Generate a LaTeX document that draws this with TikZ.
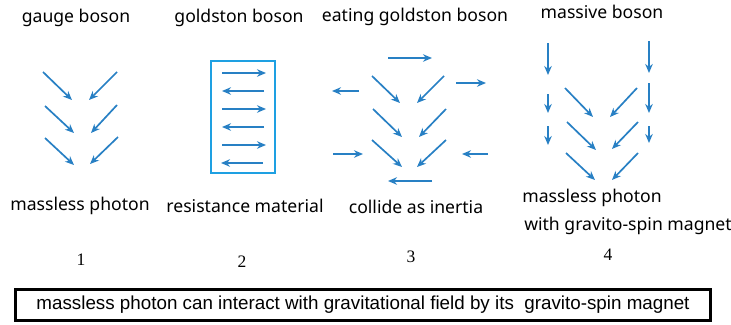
\documentclass[tikz,border=0pt]{standalone}
\usepackage{fontspec}
\setmainfont{Noto Sans}
\newfontfamily\boxfont{Liberation Sans}
\newfontfamily\numfont{Liberation Serif}
\usetikzlibrary{arrows.meta}

\definecolor{arrowblue}{RGB}{40,128,196}
\definecolor{framecyan}{RGB}{30,160,226}

\tikzset{
  photonarrow/.style={-{Stealth[length=9pt,width=7.5pt]}, line width=1.7pt, arrowblue},
  caption/.style={anchor=base, inner sep=0pt, font=\fontsize{17.6}{20}\selectfont},
  stepnum/.style={anchor=base, inner sep=0pt, font=\numfont\fontsize{17.5}{20}\selectfont}
}

\begin{document}
\begin{tikzpicture}[x=1pt, y=-1pt]
    \useasboundingbox (0,0) rectangle (731,324);

    % 1: gauge boson
    \node[caption] (gauge) at (76,22) {gauge boson};
    \draw[photonarrow] (43,72) -- (72,100);
    \draw[photonarrow] (117,72) -- (89,100);
    \draw[photonarrow] (45,106) -- (74,133);
    \draw[photonarrow] (117,105) -- (91,133);
    \draw[photonarrow] (45,138) -- (74,165);
    \draw[photonarrow] (118,137) -- (90,164);
    \node[caption] (photon1) at (80,210) {massless photon};

    % 2: goldston boson in its box
    \node[caption] (goldston) at (239,22) {goldston boson};
    \draw[framecyan, line width=2.4pt] (211,61) rectangle (275,173);
    \draw[photonarrow] (222,73) -- (266,73);
    \draw[photonarrow] (264,91) -- (222,91);
    \draw[photonarrow] (222,109) -- (266,109);
    \draw[photonarrow] (264,127) -- (222,127);
    \draw[photonarrow] (222,145) -- (266,145);
    \draw[photonarrow] (263,163) -- (221,163);
    \node[caption] (resist) at (245,212) {resistance material};

    % 3: eating goldston boson
    \node[caption] (eating) at (415,21) {eating goldston boson};
    \draw[photonarrow] (388,58) -- (432,58);
    \draw[photonarrow] (372,76) -- (400,103);
    \draw[photonarrow] (444,76) -- (417,103);
    \draw[photonarrow] (373,109) -- (402,137);
    \draw[photonarrow] (446,109) -- (419,137);
    \draw[photonarrow] (372,140) -- (402,167);
    \draw[photonarrow] (446,140) -- (417,167);
    \draw[photonarrow] (456,83) -- (486,83);
    \draw[photonarrow] (359,91) -- (332,91);
    \draw[photonarrow] (333,154) -- (363,154);
    \draw[photonarrow] (488,154) -- (462,154);
    \draw[photonarrow] (432,181) -- (388,181);
    \node[caption] (collide) at (416,213) {collide as inertia};

    % 4: massive boson
    \node[caption] (massive) at (602,18) {massive boson};
    \draw[photonarrow] (548,43) -- (548,75);
    \draw[photonarrow] (548,94) -- (548,113);
    \draw[photonarrow] (548,126) -- (548,145);
    \draw[photonarrow] (649,41) -- (649,73);
    \draw[photonarrow] (649,83) -- (649,113);
    \draw[photonarrow] (649,126) -- (649,143);
    \draw[photonarrow] (565,88) -- (593,117);
    \draw[photonarrow] (637,88) -- (610,117);
    \draw[photonarrow] (567,122) -- (596,150);
    \draw[photonarrow] (638,122) -- (612,149);
    \draw[photonarrow] (566,153) -- (595,180);
    \draw[photonarrow] (638,153) -- (612,180);
    \node[caption] (photon4) at (592,202) {massless photon};
    \node[caption] (magnet) at (628,230) {with gravito-spin magnet};

    % step numbers
    \node[stepnum] (n1) at (81,265) {1};
    \node[stepnum] (n2) at (242,267) {2};
    \node[stepnum] (n3) at (411,262) {3};
    \node[stepnum] (n4) at (608,260) {4};

    % summary
    \node[draw, line width=3.5pt, minimum width=695pt, minimum height=31pt, inner sep=0pt,
          font=\boxfont\fontsize{18.8}{21}\selectfont] (summary) at (363,305)
      {massless photon can interact with gravitational field by its\ \ gravito-spin magnet};
\end{tikzpicture}
\end{document}
